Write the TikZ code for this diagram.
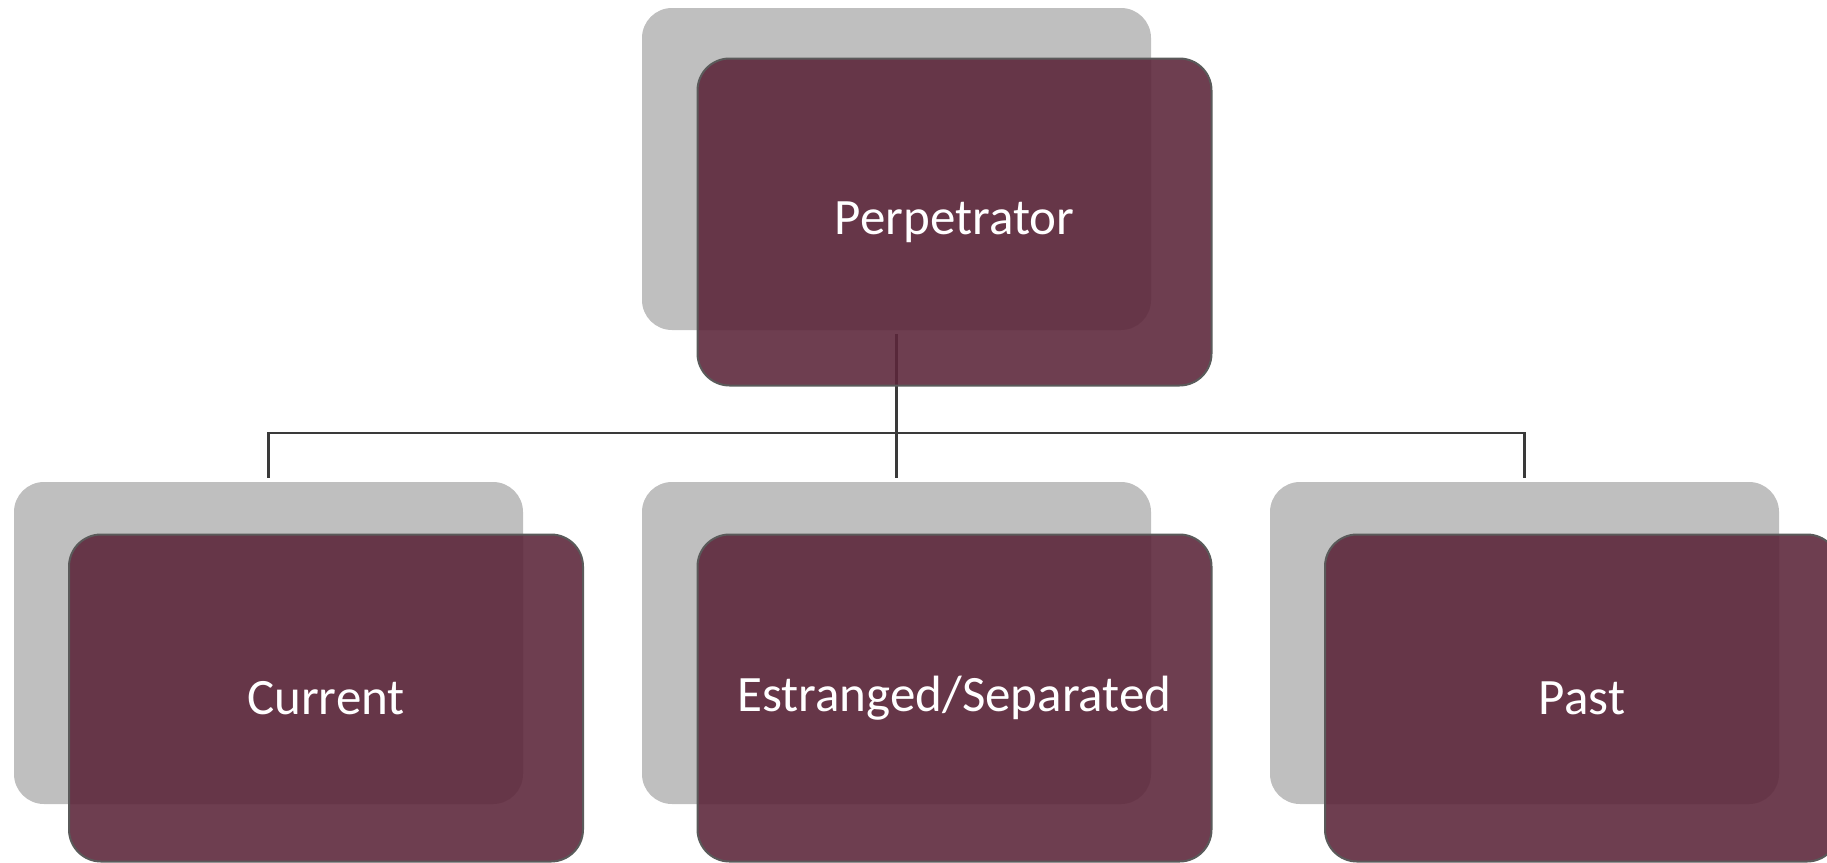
\documentclass[tikz,border=0pt]{standalone}
\usepackage{fontspec}
\setmainfont{Carlito}
\definecolor{backgray}{HTML}{BFBFBF}
\definecolor{maroon}{HTML}{5C263A}
\definecolor{rimgray}{HTML}{5A5A5A}
\definecolor{linkgray}{HTML}{3A3A3A}
\begin{document}
\begin{tikzpicture}[x=1pt,y=-1pt,
  backbox/.style={rectangle, rounded corners=30pt, fill=backgray, draw=none,
    minimum width=509pt, minimum height=322pt, inner sep=0pt},
  frontbox/.style={rectangle, rounded corners=32pt, fill=maroon, fill opacity=0.89,
    draw=rimgray, line width=2pt, text opacity=1, text=white,
    minimum width=514pt, minimum height=327pt, inner sep=0pt,
    font=\fontsize{51}{60}\selectfont},
  link/.style={draw=linkgray, line width=2.4pt}]
\useasboundingbox (0,0) rectangle (1827,862);
% back (gray) boxes
\node[backbox] (g0) at (896.5,169) {};
\node[backbox] (g1) at (268.5,643) {};
\node[backbox] (g2) at (896.5,643) {};
\node[backbox] (g3) at (1524.5,643) {};
% connectors
\coordinate (hub) at (896.5,433);
\draw[link, shorten <=4pt] (g0.south) -- (hub);
\draw[link, shorten >=4pt] (hub) -| (g1.north);
\draw[link, shorten >=4pt] (hub) -- (g2.north);
\draw[link, shorten >=4pt] (hub) -| (g3.north);
% front (maroon) boxes
\node[frontbox] (m0) at (954.5,222) {Perpetrator};
\node[frontbox] (m1) at (326,698) {Current};
\node[frontbox] (m2) at (954.5,698) {Estranged/Separated};
\node[frontbox] (m3) at (1582,698) {Past};
\end{tikzpicture}
\end{document}
